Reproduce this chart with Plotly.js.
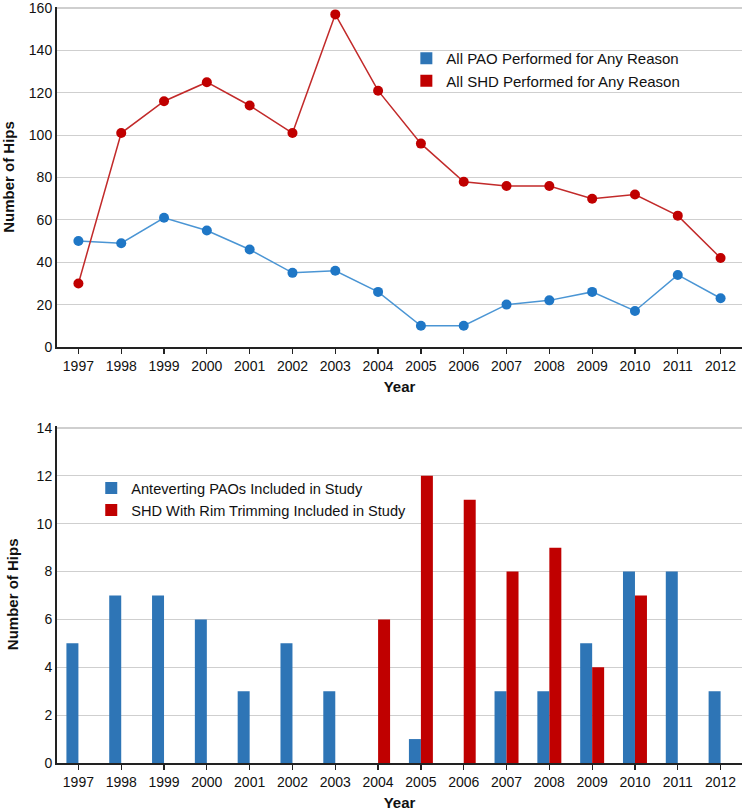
<!DOCTYPE html>
<html><head><meta charset="utf-8">
<script src="https://cdn.plot.ly/plotly-3.0.1.min.js"></script>
<style>html,body{margin:0;padding:0;background:#fff}#c{width:750px;height:811px}</style>
</head><body><div id="c"></div>
<script>
const years = [1997,1998,1999,2000,2001,2002,2003,2004,2005,2006,2007,2008,2009,2010,2011,2012];
const paoAll = [50,49,61,55,46,35,36,26,10,10,20,22,26,17,34,23];
const shdAll = [30,101,116,125,114,101,157,121,96,78,76,76,70,72,62,42];
const paoStudy = [5,7,7,6,3,5,3,0,1,0,3,3,5,8,8,3];
const shdStudy = [0,0,0,0,0,0,0,6,12,11,8,9,4,7,0,0];
const topNames = ["All PAO Performed for Any Reason","All SHD Performed for Any Reason"];
const botNames = ["Anteverting PAOs Included in Study","SHD With Rim Trimming Included in Study"];
const topTicks = [0,20,40,60,80,100,120,140,160];
const botTicks = [0,2,4,6,8,10,12,14];

const BLUE = "#1f77c6", BLUE_L = "#4a95d4", RED = "#c00000", BAR_BLUE = "#2e75b6";
const F = "Liberation Sans, Arial, sans-serif";

const traces = [
  {x: years, y: paoAll, type: "scatter", mode: "lines+markers", xaxis: "x", yaxis: "y",
   line: {color: BLUE_L, width: 1.5}, marker: {color: BLUE, size: 10}, showlegend: false},
  {x: years, y: shdAll, type: "scatter", mode: "lines+markers", xaxis: "x", yaxis: "y",
   line: {color: "#c22a2a", width: 1.5}, marker: {color: RED, size: 10}, showlegend: false},
  {x: [null], y: [null], type: "bar", name: topNames[0], xaxis: "x", yaxis: "y",
   marker: {color: BAR_BLUE}, legend: "legend"},
  {x: [null], y: [null], type: "bar", name: topNames[1], xaxis: "x", yaxis: "y",
   marker: {color: RED}, legend: "legend"},
  {x: years, y: paoStudy, type: "bar", name: botNames[0], xaxis: "x2", yaxis: "y2",
   marker: {color: BAR_BLUE}, legend: "legend2"},
  {x: years, y: shdStudy, type: "bar", name: botNames[1], xaxis: "x2", yaxis: "y2",
   marker: {color: RED}, legend: "legend2"}
];

const xax = (anchor) => ({
  anchor: anchor, range: [1996.5, 2012.5], tickmode: "array", tickvals: years,
  ticktext: years.map(String), ticks: "outside", ticklen: 5, tickwidth: 1.2, tickcolor: "#222",
  showline: true, linecolor: "#222", linewidth: 2, showgrid: false, zeroline: false,
  tickfont: {family: F, size: 14, color: "#111"},
  title: {text: "<b>Year</b>", font: {family: F, size: 15, color: "#111"}, standoff: 9}
});
const yax = (anchor, dom, rng, tv) => ({
  anchor: anchor, domain: dom, range: rng, tickmode: "array", tickvals: tv,
  ticktext: tv.map(String), ticks: "", showline: true, ticklabeloverflow: "allow",
  linecolor: "#222", linewidth: 2, showgrid: true, gridcolor: "#cfcfcf", gridwidth: 1.2,
  zeroline: false, tickfont: {family: F, size: 14, color: "#111"},
  title: {text: "<b>Number of Hips</b>", font: {family: F, size: 15, color: "#111"}, standoff: 14}
});

const layout = {
  width: 750, height: 811, margin: {l: 57, r: 8, t: 7, b: 48},
  paper_bgcolor: "#fff", plot_bgcolor: "#fff", font: {family: F, color: "#111"},
  barmode: "group", bargap: 0.44, bargroupgap: 0,
  xaxis: xax("y"), yaxis: yax("x", [0.5503, 1], [0, 160.5], topTicks),
  xaxis2: xax("y2"), yaxis2: yax("x2", [0, 0.4463], [0, 14.1], botTicks),
  legend: {x: 0.51, y: 0.9536, xanchor: "left", yanchor: "top", bgcolor: "rgba(0,0,0,0)",
    font: {family: F, size: 15, color: "#111"}, tracegroupgap: 0},
  legend2: {x: 0.05, y: 0.3849, xanchor: "left", yanchor: "top", bgcolor: "rgba(0,0,0,0)",
    font: {family: F, size: 14.6, color: "#111"}, tracegroupgap: 0},
  showlegend: true
};

Plotly.newPlot("c", traces, layout, {displayModeBar: false, staticPlot: true});
</script></body></html>
